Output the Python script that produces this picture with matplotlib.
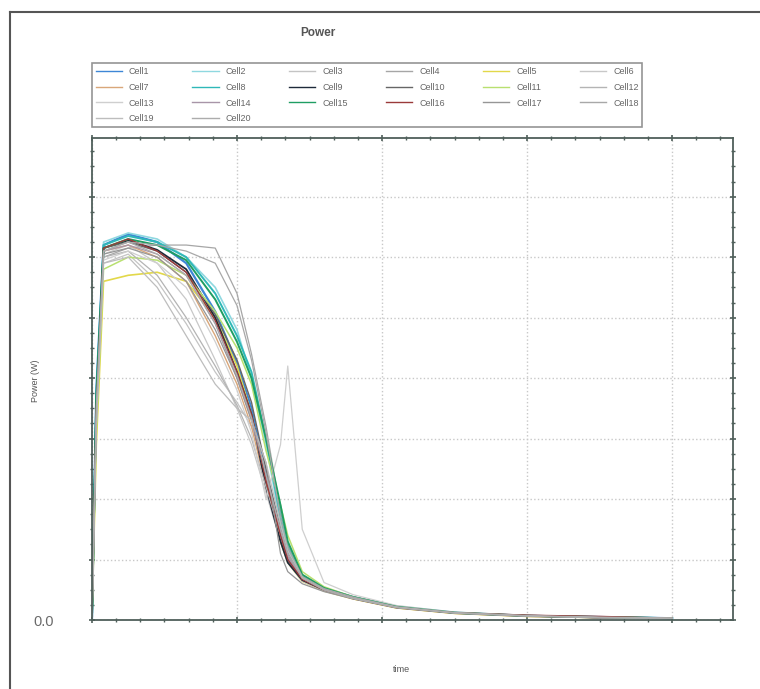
import numpy as np
import matplotlib
matplotlib.use('Agg')
import matplotlib.pyplot as plt
from matplotlib.lines import Line2D
from matplotlib.ticker import MultipleLocator

plt.rcParams['font.family'] = ['Liberation Sans', 'DejaVu Sans']

# time axis (one unit = one vertical grid interval)
time = [0, 0.03, 0.08, 0.25, 0.45, 0.65, 0.85, 1.0, 1.1, 1.2, 1.3, 1.35, 1.45,
        1.6, 1.8, 2.1, 2.5, 3.0, 3.5, 4.0]

cell1 = [0, 3.8, 6.2, 6.38, 6.25, 5.9, 5.1, 4.25, 3.5, 2.4, 1.4, 1.0, 0.68, 0.5, 0.37, 0.22, 0.12, 0.07, 0.05, 0.03]
cell2 = [0, 3.6, 6.25, 6.4, 6.3, 6.0, 5.5, 4.8, 4.0, 2.9, 1.6, 1.15, 0.7, 0.52, 0.38, 0.23, 0.13, 0.07, 0.05, 0.03]
cell3 = [0, 3.2, 5.9, 6.05, 5.6, 4.9, 4.1, 3.6, 3.2, 2.5, 1.5, 1.1, 0.7, 0.5, 0.36, 0.21, 0.12, 0.07, 0.04, 0.03]
cell4 = [0, 3.4, 6.0, 6.15, 6.2, 6.2, 6.15, 5.4, 4.4, 3.2, 1.8, 1.25, 0.75, 0.54, 0.39, 0.23, 0.13, 0.08, 0.05, 0.03]
cell5 = [0, 2.9, 5.6, 5.7, 5.75, 5.6, 5.0, 4.2, 3.4, 2.3, 1.3, 0.95, 0.64, 0.48, 0.35, 0.2, 0.11, 0.06, 0.04, 0.03]
cell6 = [0, 3.3, 6.05, 6.2, 5.9, 5.3, 4.3, 3.5, 2.9, 2.1, 1.3, 0.95, 0.64, 0.48, 0.35, 0.21, 0.12, 0.07, 0.04, 0.03]
cell7 = [0, 3.4, 6.1, 6.2, 6.0, 5.6, 4.7, 3.9, 3.2, 2.2, 1.45, 1.05, 0.66, 0.49, 0.35, 0.2, 0.11, 0.06, 0.04, 0.03]
cell8 = [0, 3.7, 6.2, 6.35, 6.25, 6.0, 5.4, 4.7, 4.1, 3.0, 1.7, 1.2, 0.72, 0.52, 0.38, 0.22, 0.12, 0.07, 0.05, 0.03]
cell9 = [0, 3.6, 6.15, 6.28, 6.12, 5.8, 5.0, 4.1, 3.4, 2.2, 1.3, 0.95, 0.66, 0.5, 0.36, 0.21, 0.12, 0.07, 0.04, 0.03]
cell10 = [0, 3.5, 6.15, 6.25, 6.1, 5.75, 5.05, 4.3, 3.6, 2.5, 1.5, 1.1, 0.7, 0.51, 0.37, 0.22, 0.12, 0.07, 0.04, 0.03]
cell11 = [0, 3.1, 5.8, 6.0, 5.95, 5.7, 5.1, 4.5, 3.9, 2.8, 1.9, 1.4, 0.8, 0.55, 0.38, 0.22, 0.12, 0.07, 0.05, 0.03]
cell12 = [0, 3.3, 6.0, 6.1, 5.7, 5.0, 4.2, 3.55, 3.0, 2.2, 1.4, 1.05, 0.68, 0.5, 0.36, 0.21, 0.12, 0.07, 0.04, 0.03]
cell13 = [0, 3.2, 5.95, 6.1, 5.9, 5.5, 4.6, 3.8, 3.1, 2.0, 2.9, 4.2, 1.5, 0.62, 0.42, 0.24, 0.13, 0.08, 0.05, 0.03]
cell14 = [0, 3.4, 6.1, 6.2, 6.05, 5.7, 4.9, 4.0, 3.3, 2.35, 1.45, 1.05, 0.68, 0.5, 0.36, 0.21, 0.12, 0.07, 0.05, 0.03]
cell15 = [0, 3.7, 6.15, 6.3, 6.2, 5.95, 5.3, 4.6, 4.0, 3.0, 1.9, 1.3, 0.75, 0.53, 0.38, 0.22, 0.12, 0.07, 0.05, 0.03]
cell16 = [0, 3.5, 6.15, 6.3, 6.1, 5.75, 4.95, 4.1, 3.4, 2.3, 1.4, 1.0, 0.67, 0.5, 0.36, 0.21, 0.12, 0.08, 0.06, 0.03]
cell17 = [0, 3.3, 6.05, 6.15, 6.0, 5.6, 4.8, 4.0, 3.3, 2.6, 1.1, 0.8, 0.6, 0.47, 0.35, 0.2, 0.11, 0.06, 0.04, 0.03]
cell18 = [0, 3.4, 6.1, 6.25, 6.2, 6.1, 5.9, 5.2, 4.3, 3.1, 1.7, 1.2, 0.72, 0.52, 0.38, 0.22, 0.12, 0.07, 0.05, 0.03]
cell19 = [0, 3.2, 5.9, 6.0, 5.5, 4.7, 3.9, 3.5, 3.3, 2.6, 1.6, 1.15, 0.7, 0.5, 0.36, 0.21, 0.12, 0.07, 0.04, 0.03]
cell20 = [0, 3.5, 6.1, 6.25, 6.05, 5.7, 4.9, 4.05, 3.35, 2.4, 1.5, 1.1, 0.69, 0.5, 0.36, 0.21, 0.12, 0.07, 0.04, 0.03]

cells = [cell1, cell2, cell3, cell4, cell5, cell6, cell7, cell8, cell9, cell10,
         cell11, cell12, cell13, cell14, cell15, cell16, cell17, cell18, cell19, cell20]
labels = ['Cell%d' % (i + 1) for i in range(20)]
colors = ['#3d86d6', '#8fd8e0', '#c4c4c4', '#a6a6a6', '#e2d84a',
          '#c8c8c8', '#d9a77a', '#2fb8b8', '#1e2a3a', '#666666',
          '#b8e070', '#b4b4b4', '#cfcfcf', '#a895a8', '#1f9e63',
          '#9a3a3a', '#969696', '#a8a8a8', '#bdbdbd', '#acacac']
widths = [1.6, 1.2, 0.9, 0.9, 1.2, 0.9, 1.0, 1.4, 1.3, 1.0,
          1.1, 0.9, 0.9, 0.9, 1.4, 1.0, 0.9, 0.9, 0.9, 0.9]

fig = plt.figure(figsize=(7.6, 6.89), dpi=100, facecolor='w')
ax = fig.add_axes([0.121, 0.1001, 0.8435, 0.6996])

lines = []
for i in range(20):
    ln, = ax.plot(time, cells[i], color=colors[i], linewidth=widths[i], label=labels[i])
    lines.append(ln)

ax.set_xlim(0, 4.42)
ax.set_ylim(0, 7.97)
ax.xaxis.set_major_locator(MultipleLocator(1))
ax.xaxis.set_minor_locator(MultipleLocator(1 / 6))
ax.yaxis.set_major_locator(MultipleLocator(1))
ax.yaxis.set_minor_locator(MultipleLocator(0.25))
ax.grid(True, which='major', color='#c8c8c8', linestyle=':', linewidth=1.0)
ax.set_xticklabels([])
ax.set_yticks(range(0, 8))
ax.set_yticklabels(['0.0'] + [''] * 7)
ax.tick_params(which='both', direction='inout', colors='#4f5f5a', top=True, right=True)
ax.tick_params(which='major', length=5, width=1.2)
ax.tick_params(which='minor', length=3, width=1.0)
ax.tick_params(axis='y', pad=40, labelsize=10.5, labelcolor='#6a6a6a')
for lbl in ax.get_yticklabels():
    lbl.set_horizontalalignment('left')
for s in ax.spines.values():
    s.set_color('#4f5f5a')
    s.set_linewidth(1.3)

fig.text(0.047, 0.448, 'Power (W)', rotation=90, fontsize=6.5, color='#555555',
         ha='center', va='center')
fig.text(0.528, 0.028, 'time', fontsize=6.5, color='#555555', ha='center', va='center')
fig.text(0.418, 0.952, 'Power', fontsize=8.5, fontweight='bold', color='#555555',
         ha='center', va='center')

# legend is filled column by column, so reorder to read row by row
ncol = 6
order = []
for c in range(ncol):
    order += list(range(c, 20, ncol))
leg = fig.legend([lines[k] for k in order], [labels[k] for k in order],
                 loc='lower left', bbox_to_anchor=(0.121, 0.8157, 0.724, 0.1016),
                 mode='expand', ncol=ncol, fontsize=6.5, frameon=True, fancybox=False,
                 handlelength=2.9, labelspacing=0.75, borderaxespad=0, borderpad=0.4,
                 columnspacing=1.0)
leg.get_frame().set_edgecolor('#7a7a7a')
leg.get_frame().set_linewidth(1.2)
for t in leg.get_texts():
    t.set_color('#666666')
for h in leg.get_lines():
    h.set_linewidth(1.0)

# outer border of the scanned page
fig.add_artist(Line2D([0.013, 0.013], [0, 0.983], color='#555555', linewidth=1.5))
fig.add_artist(Line2D([0.013, 1.0], [0.983, 0.983], color='#555555', linewidth=1.5))

plt.savefig('out.png', dpi=100)
plt.close()
